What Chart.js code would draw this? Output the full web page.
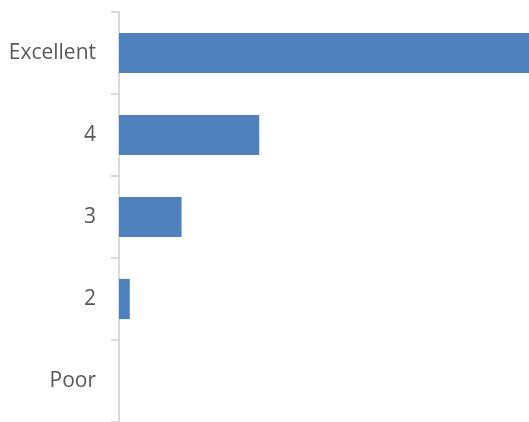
<!DOCTYPE html>
<html>
<head>
<meta charset="utf-8">
<script src="https://cdn.jsdelivr.net/npm/chart.js@4"></script>
<style>
html,body{margin:0;padding:0;background:#fff;}
#wrap{width:529px;height:422px;}
</style>
</head>
<body>
<div id="wrap"><canvas id="c" width="529" height="422"></canvas></div>
<script>
const categories = ["Excellent", "4", "3", "2", "Poor"];
const values = [40, 13, 5.8, 1, 0];
const xMax = 38;

new Chart(document.getElementById('c'), {
  type: 'bar',
  data: {
    labels: categories,
    datasets: [{
      data: values,
      backgroundColor: '#4F81BD',
      borderWidth: 0,
      barPercentage: 1,
      categoryPercentage: 0.49
    }]
  },
  options: {
    indexAxis: 'y',
    responsive: false,
    animation: false,
    devicePixelRatio: 1,
    layout: { padding: { top: 12, right: 0, bottom: 0, left: 0 } },
    plugins: { legend: { display: false }, tooltip: { enabled: false } },
    scales: {
      x: { display: false, min: 0, max: xMax },
      y: {
        afterFit: s => { s.width = 119; s.paddingTop = 0; s.paddingBottom = 0; },
        border: { display: true, color: '#d9d9d9', width: 2 },
        grid: { display: true, drawOnChartArea: false, drawTicks: true, tickLength: 8, color: '#d9d9d9', lineWidth: 2, offset: true },
        ticks: { color: '#595959', padding: 15, font: { family: 'Open Sans', size: 21 } }
      }
    }
  }
});
</script>
</body>
</html>
